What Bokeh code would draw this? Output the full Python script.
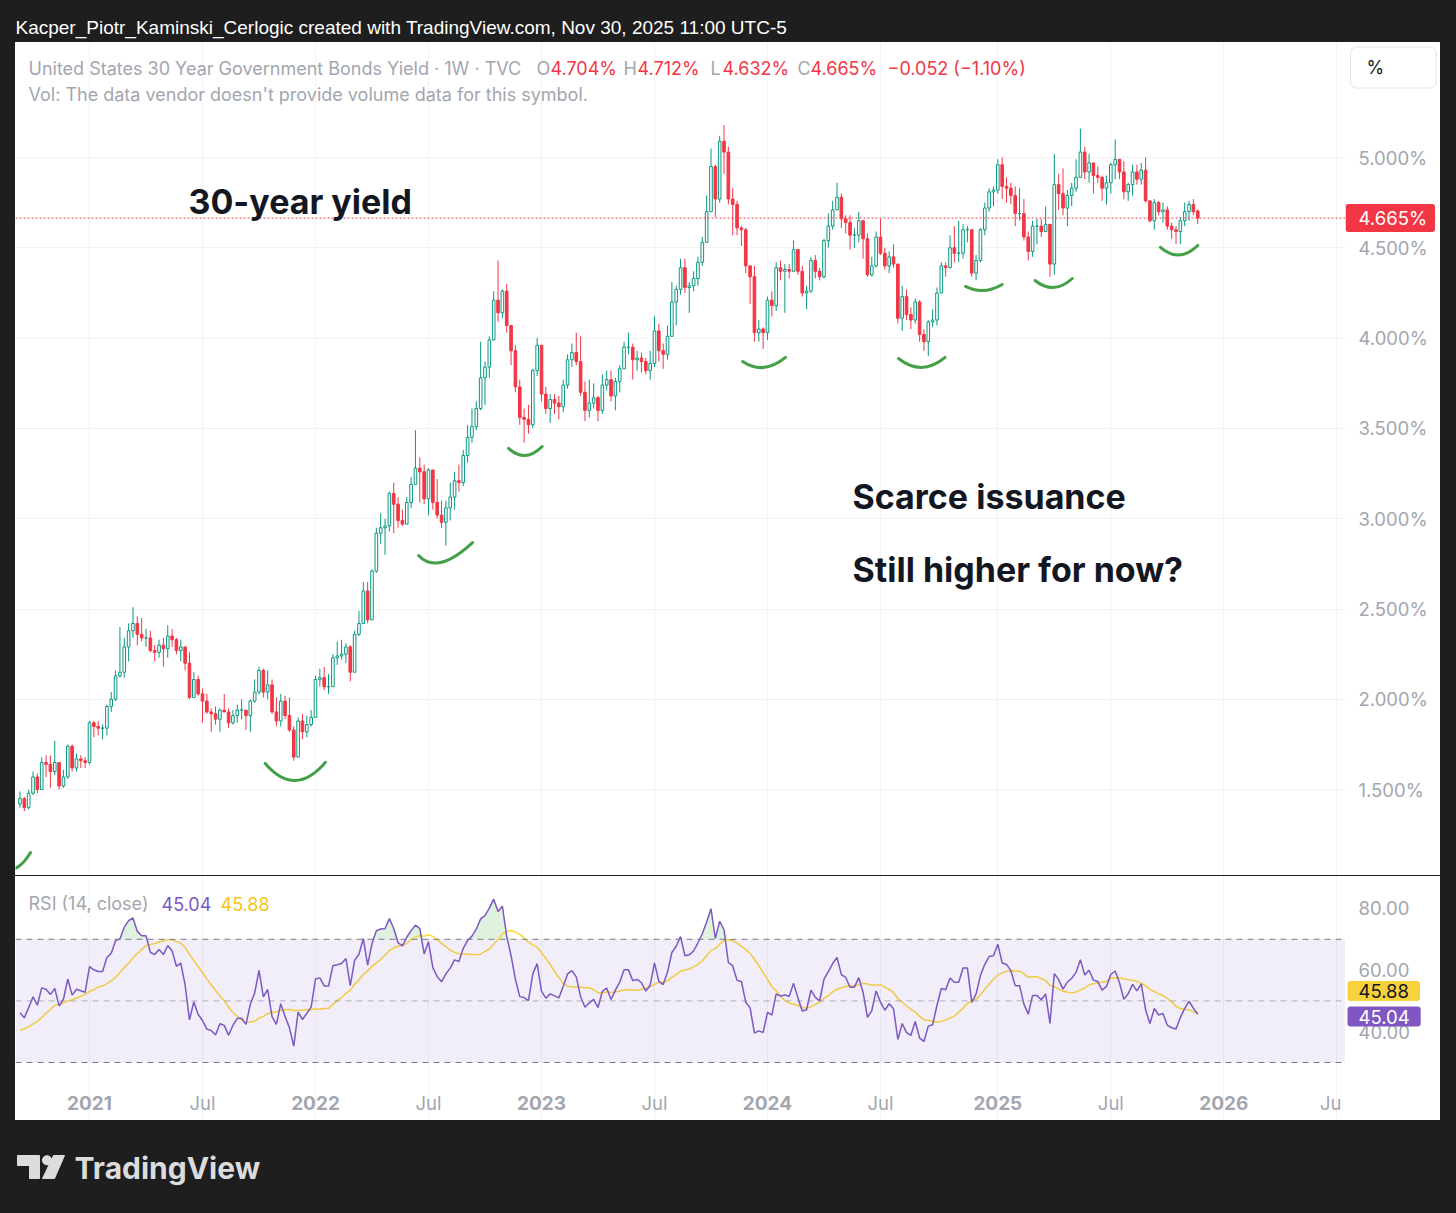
import numpy as np
import pandas as pd
from bokeh.plotting import figure
from bokeh.models import (Range1d, FixedTicker, Span, Label, ColumnDataSource, BoxAnnotation,
                          Spacer, Grid)
from bokeh.layouts import column, row
from bokeh.core.properties import value
from bokeh.embed import file_html
from bokeh.resources import INLINE

# ---------------- data (weekly bars, Monday-stamped) ----------------
FIRST_BAR = "2020-09-14"
# closes before the first visible bar (used only to warm up RSI)
warmup_closes = [2.28, 2.29, 2.13, 2.00, 2.05, 2.04, 1.90, 1.68, 1.22, 1.54, 1.54, 1.27,
                 1.23, 1.35, 1.28, 1.17, 1.29, 1.39, 1.31, 1.37, 1.41, 1.68, 1.45, 1.46,
                 1.38, 1.43, 1.33, 1.33, 1.23, 1.19, 1.25, 1.47, 1.35, 1.52, 1.46, 1.42]

close_2020 = [1.45, 1.40, 1.48, 1.57, 1.50, 1.65, 1.64, 1.60, 1.65, 1.52, 1.57, 1.74, 1.62, 1.67, 1.66, 1.65]
high_2020 = [1.49, 1.46, 1.50, 1.60, 1.59, 1.68, 1.69, 1.69, 1.77, 1.65, 1.61, 1.75, 1.75, 1.70, 1.69, 1.68]
low_2020 = [1.40, 1.38, 1.39, 1.47, 1.48, 1.50, 1.57, 1.51, 1.58, 1.50, 1.51, 1.56, 1.60, 1.60, 1.62, 1.62]

close_2021 = [1.87, 1.85, 1.84, 1.84, 1.96, 2.00, 2.13, 2.15, 2.29, 2.38, 2.42, 2.36, 2.34, 2.34, 2.27, 2.26,
              2.30, 2.28, 2.35, 2.33, 2.27, 2.29, 2.20, 2.01, 2.11, 2.03, 1.99, 1.93, 1.92, 1.89, 1.94, 1.93,
              1.87, 1.91, 1.94, 1.94, 1.91, 1.99, 2.04, 2.16, 2.04, 2.08, 1.93, 1.88, 1.99, 1.91, 1.83, 1.68,
              1.88, 1.82, 1.86, 1.90]
high_2021 = [1.88, 1.88, 1.88, 1.86, 1.97, 2.04, 2.16, 2.40, 2.34, 2.42, 2.51, 2.46, 2.45, 2.39, 2.38, 2.30,
             2.33, 2.34, 2.41, 2.39, 2.34, 2.33, 2.27, 2.26, 2.15, 2.13, 2.06, 2.03, 1.95, 1.96, 1.95, 2.03,
             1.95, 1.94, 1.97, 2.00, 1.94, 2.00, 2.11, 2.18, 2.17, 2.16, 2.11, 2.01, 2.03, 2.02, 2.01, 1.85,
             1.90, 1.92, 1.91, 1.94]
low_2021 = [1.64, 1.79, 1.80, 1.78, 1.80, 1.93, 1.99, 2.12, 2.12, 2.21, 2.34, 2.30, 2.32, 2.29, 2.26, 2.21,
            2.23, 2.18, 2.23, 2.29, 2.25, 2.21, 2.16, 2.00, 2.01, 2.02, 1.87, 1.92, 1.82, 1.86, 1.82, 1.93,
            1.84, 1.86, 1.87, 1.89, 1.83, 1.82, 1.98, 2.03, 2.01, 2.00, 1.92, 1.85, 1.85, 1.89, 1.82, 1.66,
            1.69, 1.78, 1.79, 1.85]

close_2022 = [2.11, 2.12, 2.07, 2.07, 2.23, 2.24, 2.25, 2.29, 2.15, 2.36, 2.42, 2.60, 2.44, 2.71, 2.92, 2.95,
              2.96, 3.14, 3.08, 2.99, 2.97, 3.09, 3.19, 3.28, 3.26, 3.11, 3.27, 3.09, 3.02, 2.98, 3.06, 3.12,
              3.21, 3.20, 3.35, 3.45, 3.51, 3.61, 3.78, 3.84, 3.99, 4.21, 4.14, 4.26, 4.07, 3.93, 3.73, 3.56,
              3.55, 3.52, 3.82, 3.96]
high_2022 = [2.13, 2.17, 2.18, 2.14, 2.25, 2.32, 2.33, 2.31, 2.30, 2.38, 2.49, 2.65, 2.65, 2.72, 2.95, 3.03,
             3.00, 3.15, 3.20, 3.12, 3.05, 3.12, 3.23, 3.49, 3.34, 3.30, 3.28, 3.27, 3.22, 3.10, 3.10, 3.20,
             3.26, 3.30, 3.38, 3.52, 3.61, 3.65, 3.98, 3.87, 4.01, 4.26, 4.43, 4.27, 4.30, 4.06, 3.96, 3.77,
             3.61, 3.63, 3.83, 4.00]
low_2022 = [1.91, 2.07, 2.05, 2.03, 2.07, 2.19, 2.22, 2.20, 2.10, 2.16, 2.35, 2.42, 2.42, 2.44, 2.70, 2.86,
            2.80, 2.93, 2.92, 2.95, 2.96, 2.98, 3.06, 3.20, 3.09, 3.08, 3.02, 3.05, 3.00, 2.95, 2.85, 2.99,
            3.05, 3.15, 3.18, 3.31, 3.42, 3.49, 3.60, 3.63, 3.78, 3.99, 4.09, 4.11, 4.03, 3.85, 3.70, 3.52,
            3.42, 3.47, 3.50, 3.79]

close_2023 = [3.69, 3.61, 3.66, 3.64, 3.62, 3.74, 3.88, 3.92, 3.87, 3.70, 3.60, 3.64, 3.67, 3.60, 3.74, 3.77,
              3.68, 3.76, 3.83, 3.95, 3.95, 3.88, 3.89, 3.87, 3.82, 3.86, 4.04, 3.93, 3.91, 4.01, 4.20, 4.27,
              4.39, 4.28, 4.29, 4.33, 4.42, 4.53, 4.70, 4.95, 4.77, 5.09, 5.03, 4.77, 4.74, 4.61, 4.60, 4.40,
              4.34, 4.03, 4.05, 4.03]
high_2023 = [3.96, 3.73, 3.69, 3.69, 3.68, 3.77, 3.91, 3.97, 4.03, 4.01, 3.76, 3.77, 3.75, 3.68, 3.80, 3.82,
             3.82, 3.78, 3.85, 3.98, 4.03, 3.97, 3.93, 3.92, 3.89, 3.93, 4.12, 4.08, 3.97, 4.07, 4.31, 4.29,
             4.44, 4.44, 4.31, 4.37, 4.45, 4.56, 4.79, 5.05, 4.96, 5.12, 5.18, 5.06, 4.83, 4.76, 4.62, 4.61,
             4.40, 4.40, 4.10, 4.06]
low_2023 = [3.65, 3.58, 3.53, 3.58, 3.55, 3.59, 3.72, 3.84, 3.85, 3.68, 3.54, 3.56, 3.61, 3.54, 3.58, 3.71,
            3.65, 3.60, 3.70, 3.83, 3.91, 3.77, 3.82, 3.81, 3.80, 3.77, 3.84, 3.87, 3.83, 3.88, 4.01, 4.07,
            4.24, 4.25, 4.14, 4.26, 4.29, 4.40, 4.53, 4.70, 4.67, 4.75, 4.91, 4.74, 4.57, 4.57, 4.51, 4.36,
            4.19, 3.98, 3.98, 3.94]

close_2024 = [4.21, 4.18, 4.39, 4.37, 4.38, 4.37, 4.49, 4.37, 4.25, 4.26, 4.43, 4.37, 4.34, 4.54, 4.62, 4.71,
              4.78, 4.66, 4.64, 4.57, 4.57, 4.65, 4.55, 4.35, 4.40, 4.56, 4.47, 4.40, 4.45, 4.41, 4.11, 4.23,
              4.13, 4.10, 4.20, 4.02, 3.98, 4.09, 4.10, 4.25, 4.40, 4.39, 4.50, 4.47, 4.47, 4.60, 4.60, 4.36,
              4.43, 4.60, 4.72, 4.81]
high_2024 = [4.23, 4.26, 4.42, 4.43, 4.41, 4.41, 4.54, 4.48, 4.40, 4.29, 4.45, 4.46, 4.39, 4.55, 4.69, 4.76,
             4.86, 4.80, 4.68, 4.68, 4.61, 4.70, 4.62, 4.58, 4.45, 4.59, 4.66, 4.50, 4.48, 4.52, 4.41, 4.29,
             4.27, 4.17, 4.22, 4.21, 4.05, 4.10, 4.16, 4.28, 4.42, 4.42, 4.57, 4.62, 4.65, 4.63, 4.62, 4.54,
             4.46, 4.61, 4.75, 4.83]
low_2024 = [3.99, 4.12, 4.15, 4.32, 4.14, 4.33, 4.37, 4.35, 4.23, 4.16, 4.25, 4.33, 4.32, 4.33, 4.50, 4.60,
            4.71, 4.61, 4.58, 4.49, 4.50, 4.53, 4.44, 4.34, 4.34, 4.39, 4.46, 4.38, 4.36, 4.39, 4.08, 4.04,
            4.10, 4.05, 4.08, 3.98, 3.93, 3.90, 4.06, 4.07, 4.26, 4.34, 4.39, 4.42, 4.42, 4.44, 4.53, 4.34,
            4.32, 4.42, 4.57, 4.70]

close_2025 = [4.82, 4.96, 4.84, 4.83, 4.79, 4.69, 4.69, 4.56, 4.48, 4.62, 4.62, 4.59, 4.63, 4.41, 4.85, 4.80,
              4.72, 4.79, 4.83, 4.89, 5.03, 4.92, 4.97, 4.90, 4.89, 4.83, 4.86, 4.96, 4.99, 4.92, 4.81, 4.85,
              4.92, 4.88, 4.93, 4.76, 4.65, 4.75, 4.70, 4.71, 4.62, 4.60, 4.59, 4.65, 4.70, 4.74, 4.70, 4.665]
high_2025 = [4.84, 4.99, 5.00, 4.89, 4.86, 4.84, 4.83, 4.77, 4.59, 4.65, 4.66, 4.66, 4.73, 4.63, 5.02, 4.91,
             4.94, 4.82, 4.86, 4.99, 5.16, 5.06, 5.02, 4.97, 4.95, 4.90, 4.90, 4.97, 5.10, 4.99, 4.98, 4.86,
             4.96, 4.96, 4.97, 5.00, 4.76, 4.77, 4.76, 4.75, 4.73, 4.64, 4.62, 4.67, 4.75, 4.76, 4.77, 4.712]
low_2025 = [4.73, 4.80, 4.77, 4.75, 4.74, 4.62, 4.65, 4.54, 4.43, 4.45, 4.52, 4.56, 4.60, 4.34, 4.35, 4.71,
            4.68, 4.62, 4.73, 4.81, 4.89, 4.88, 4.86, 4.80, 4.86, 4.76, 4.74, 4.80, 4.88, 4.88, 4.77, 4.76,
            4.79, 4.85, 4.85, 4.75, 4.64, 4.60, 4.68, 4.64, 4.60, 4.55, 4.52, 4.52, 4.62, 4.65, 4.68, 4.632]
LAST_OPEN = 4.704

# axis ticks / labels
price_ticks = [1.5, 2.0, 2.5, 3.0, 3.5, 4.0, 4.5, 5.0]
price_tick_labels = ["1.500%", "2.000%", "2.500%", "3.000%", "3.500%", "4.000%", "4.500%", "5.000%"]
rsi_ticks = [40, 60, 80]
rsi_tick_labels = ["40.00", "60.00", "80.00"]
year_tick_dates = ["2021-01-04", "2022-01-03", "2023-01-02", "2024-01-01", "2025-01-06", "2026-01-05"]
year_tick_labels = ["2021", "2022", "2023", "2024", "2025", "2026"]
month_tick_dates = ["2021-07-05", "2022-07-04", "2023-07-03", "2024-07-01", "2025-07-07", "2026-07-06"]
month_tick_labels = ["Jul", "Jul", "Jul", "Jul", "Jul", "Ju"]

# hand-drawn "smile" annotations (start, end, control point)
smile_x0 = ["2020-09-01", "2021-10-14", "2022-06-18", "2022-11-10", "2023-11-22", "2024-07-30", "2024-11-15", "2025-03-07", "2025-09-25"]
smile_y0 = [1.055, 1.645, 2.796, 3.389, 3.870, 3.887, 4.286, 4.319, 4.502]
smile_x1 = ["2020-10-01", "2022-01-19", "2022-09-13", "2023-01-03", "2024-01-30", "2024-10-13", "2025-01-13", "2025-05-06", "2025-11-24"]
smile_y1 = [1.152, 1.651, 2.868, 3.400, 3.893, 3.893, 4.297, 4.330, 4.513]
smile_cx = ["2020-09-18", "2021-12-01", "2022-07-18", "2022-12-07", "2023-12-26", "2024-09-06", "2024-12-14", "2025-04-06", "2025-10-25"]
smile_cy = [1.075, 1.453, 2.686, 3.306, 3.793, 3.785, 4.236, 4.236, 4.413]

# ---------------- derived series ----------------
closes = close_2020 + close_2021 + close_2022 + close_2023 + close_2024 + close_2025
highs = high_2020 + high_2021 + high_2022 + high_2023 + high_2024 + high_2025
lows = low_2020 + low_2021 + low_2022 + low_2023 + low_2024 + low_2025
nbar = len(closes)
dates = pd.date_range(FIRST_BAR, periods=nbar, freq="7D")
opens = [warmup_closes[-1]] + closes[:-1]
opens[-1] = LAST_OPEN
c = np.array(closes); o = np.array(opens)
h = np.maximum.reduce([np.array(highs), o, c])
l = np.minimum.reduce([np.array(lows), o, c])
up = c >= o

# RSI(14) with Wilder smoothing, and its 14-period SMA
allc = np.array(warmup_closes + closes)
d = np.diff(allc)
g = np.clip(d, 0, None); ls = np.clip(-d, 0, None)
N = 14
ag = np.full(len(d), np.nan); al = np.full(len(d), np.nan)
ag[N - 1] = g[:N].mean(); al[N - 1] = ls[:N].mean()
for i in range(N, len(d)):
    ag[i] = (ag[i - 1] * (N - 1) + g[i]) / N
    al[i] = (al[i - 1] * (N - 1) + ls[i]) / N
rsi_all = np.concatenate([[np.nan], 100 - 100 / (1 + ag / al)])
ma_all = pd.Series(rsi_all).rolling(N).mean().to_numpy()
nw = len(warmup_closes)
rsi = rsi_all[nw:]
rsi_ma = ma_all[nw:]

def ms(s):
    return pd.Timestamp(s).timestamp() * 1000.0

# ---------------- styling / layout constants ----------------
UI = "Inter"
GREY = "#a3a6af"
RED = "#f23645"
GREEN = "#089981"
PURPLE = "#7e57c2"
YELLOW = "#f7d23c"
DARK = "#1e1e1e"
INK = "#131722"
PANE_W = 1330      # chart panes: page x 15 .. 1345
SCALE_W = 95       # price scales: page x 1345 .. 1440
PRICE_H = 833      # page y 42 .. 875
RSI_H = 244        # page y 876 .. 1120

anchor = pd.Timestamp("2021-01-04")
x_start = (anchor - pd.Timedelta(weeks=17.03)).timestamp() * 1000.0
x_end = (anchor + pd.Timedelta(weeks=289.0)).timestamp() * 1000.0
xr = Range1d(start=x_start, end=x_end)

P_TOP, P_BOT = 5.6368, 1.0244
p_k = (P_TOP - P_BOT) / PRICE_H
def pyv(pix):  # page pixel -> price value
    return P_TOP - (pix - 42) * p_k

R_TOP = 90.39
r_k = 67.86 / 209.0
R_BOT = R_TOP - RSI_H * r_k
def ryv(pix):  # page pixel -> RSI value
    return R_TOP - (pix - 876) * r_k

all_tick_ms = [ms(t) for t in year_tick_dates + month_tick_dates]
py_range = Range1d(P_BOT, P_TOP)
ry_range = Range1d(R_BOT, R_TOP)

def bare(fig):
    for gr in list(fig.grid):
        gr.visible = False
    return fig

def mkfig(w, h, xrange, yrange, bg="white", **kw):
    f = figure(width=w, height=h, x_range=xrange, y_range=yrange, output_backend="svg",
               toolbar_location=None, x_axis_location=None, y_axis_location=None,
               min_border=0, outline_line_color=None, background_fill_color=bg,
               border_fill_color=bg, **kw)
    return bare(f)

def lab(fig, text, x, y, color, size="18px", style="normal", font=UI, units="screen", **kw):
    fig.add_layout(Label(x=x, y=y, x_units=units, y_units="data", text=text,
                         text_color=color, text_font=font, text_font_size=size,
                         text_font_style=style, text_baseline="middle", **kw))

# ---------------- header ----------------
header = mkfig(1456, 42, Range1d(0, 1456), Range1d(42, 0), bg=DARK)
lab(header, "Kacper_Piotr_Kaminski_Cerlogic created with TradingView.com, Nov 30, 2025 11:00 UTC-5",
    15, 27, "white", size="19px", font="Liberation Sans", units="data")

# ---------------- price pane ----------------
price = mkfig(PANE_W, PRICE_H, xr, py_range, x_axis_type="datetime")
price.add_layout(Grid(dimension=0, ticker=FixedTicker(ticks=all_tick_ms), grid_line_color="#f2f3f5"))
price.add_layout(Grid(dimension=1, ticker=FixedTicker(ticks=price_ticks), grid_line_color="#f2f3f5"))

bar_w = 7 * 24 * 3600 * 1000 * 0.6
src_up = ColumnDataSource(dict(date=dates[up], top=c[up], bottom=o[up], high=h[up], low=l[up]))
src_dn = ColumnDataSource(dict(date=dates[~up], top=o[~up], bottom=c[~up], high=h[~up], low=l[~up]))
price.segment(x0="date", y0="low", x1="date", y1="high", source=src_up, line_color=GREEN, line_width=1)
price.segment(x0="date", y0="low", x1="date", y1="high", source=src_dn, line_color=RED, line_width=1)
price.vbar(x="date", width=bar_w, top="top", bottom="bottom", source=src_up,
           fill_color="white", line_color=GREEN, line_width=1)
price.vbar(x="date", width=bar_w, top="top", bottom="bottom", source=src_dn,
           fill_color=RED, line_color=RED, line_width=1)

price.add_layout(Span(location=closes[-1], dimension="width", line_color=RED,
                      line_dash="2 2", line_width=1))

smile_src = ColumnDataSource(dict(x0=[ms(s) for s in smile_x0], y0=smile_y0,
                                  x1=[ms(s) for s in smile_x1], y1=smile_y1,
                                  cx=[ms(s) for s in smile_cx], cy=smile_cy))
price.quadratic(x0="x0", y0="y0", x1="x1", y1="y1", cx="cx", cy="cy", source=smile_src,
                line_color="#43a047", line_width=3, line_cap="round")

# legend (x in screen px of pane = page x - 15)
LY = pyv(68)
lab(price, "United States 30 Year Government Bonds Yield \u00b7 1W \u00b7 TVC", 13, LY, GREY)
lab(price, "O", 521, LY, GREY)
lab(price, "4.704%", 535, LY, RED)
lab(price, "H", 608, LY, GREY)
lab(price, "4.712%", 622, LY, RED)
lab(price, "L", 695, LY, GREY)
lab(price, "4.632%", 707, LY, RED)
lab(price, "C", 782, LY, GREY)
lab(price, "4.665%", 795, LY, RED)
lab(price, "\u22120.052 (\u22121.10%)", 872, LY, RED)
lab(price, "Vol: The data vendor doesn't provide volume data for this symbol.", 13, pyv(94), GREY)

# big annotations
lab(price, "30-year yield", 173, pyv(201), INK, size="34px", style="bold")
lab(price, "Scarce issuance", 837, pyv(496), INK, size="34px", style="bold")
lab(price, "Still higher for now?", 837, pyv(569), INK, size="34px", style="bold")

# ---------------- price scale ----------------
pscale = mkfig(SCALE_W, PRICE_H, Range1d(0, SCALE_W), py_range)
pscale.text(x=[13] * len(price_ticks), y=price_ticks, text=price_tick_labels,
            text_font=value(UI), text_font_size="18.5px", text_color=GREY,
            text_baseline="middle", text_align="left")
lab(pscale, "%", 5, pyv(67), INK, size="18px",
    background_fill_color="white", border_line_color="#e0e3eb", border_radius=6,
    padding=dict(left=16, right=52, top=10, bottom=10))
lab(pscale, "4.665%", 0, closes[-1], "white", size="18.5px",
    background_fill_color=RED, border_radius=3,
    padding=dict(left=13, right=8, top=3, bottom=3))

# ---------------- RSI pane ----------------
rp = mkfig(PANE_W, RSI_H, xr, ry_range, x_axis_type="datetime")
rp.add_layout(Grid(dimension=0, ticker=FixedTicker(ticks=all_tick_ms), grid_line_color="#f2f3f5",
                   bounds=(ryv(1085), R_TOP)))
rp.add_layout(BoxAnnotation(bottom=30, top=70, fill_color=PURPLE, fill_alpha=0.1, line_color=None))
rp.varea(x=dates, y1=np.full(nbar, 70.0), y2=np.maximum(rsi, 70.0), fill_color="#4caf50", fill_alpha=0.18)
for lvl, alpha in ((70, 1.0), (50, 0.55), (30, 1.0)):
    rp.add_layout(Span(location=lvl, dimension="width", line_color="#787b86", line_alpha=alpha,
                       line_dash="6 5", line_width=1))
rp.line(x=dates, y=rsi_ma, line_color="#fdd835", line_width=1.5)
rp.line(x=dates, y=rsi, line_color=PURPLE, line_width=1.5)

# time axis labels
AX_Y = ryv(1102)
month_label_nudge = [0, 0, 0, 0, 0, -6]   # keep the last, partly visible label inside the pane
rp.text(x=[ms(t) for t in year_tick_dates], y=[AX_Y] * len(year_tick_dates), text=year_tick_labels,
        text_font=value(UI), text_font_size="19px", text_font_style="bold", text_color=GREY,
        text_align="center", text_baseline="middle")
msrc = ColumnDataSource(dict(x=[ms(t) for t in month_tick_dates], y=[AX_Y] * len(month_tick_dates),
                             text=month_tick_labels, dx=month_label_nudge))
rp.text(x="x", y="y", text="text", x_offset="dx", source=msrc,
        text_font=value(UI), text_font_size="18.5px", text_color=GREY,
        text_align="center", text_baseline="middle")

RLY = ryv(903)
lab(rp, "RSI (14, close)", 13, RLY, GREY)
lab(rp, "45.04", 146, RLY, PURPLE)
lab(rp, "45.88", 205, RLY, "#f5c518")

# ---------------- RSI scale ----------------
rscale = mkfig(SCALE_W, RSI_H, Range1d(0, SCALE_W), ry_range)
rscale.text(x=[13] * len(rsi_ticks), y=rsi_ticks, text=rsi_tick_labels,
            text_font=value(UI), text_font_size="18.5px", text_color=GREY,
            text_baseline="middle", text_align="left")
lab(rscale, "45.88", 2, ryv(990.5), INK, size="18.5px", background_fill_color=YELLOW,
    border_radius=3, padding=dict(left=11, right=11, top=3, bottom=3))
lab(rscale, "45.04", 2, ryv(1016), "white", size="18.5px", background_fill_color=PURPLE,
    border_radius=3, padding=dict(left=11, right=11, top=3, bottom=3))

# ---------------- footer ----------------
footer = mkfig(1456, 93, Range1d(0, 1456), Range1d(93, 0), bg=DARK)
LOGO = "#dcdcdc"
footer.patch(x=[17, 39, 39, 29, 29, 17], y=[35, 35, 58, 58, 45, 45], color=LOGO)
footer.circle(x=[46.5], y=[39.8], radius=4.6, color=LOGO)
footer.patch(x=[53, 64, 54, 42], y=[35, 35, 58, 58], color=LOGO)
lab(footer, "TradingView", 74, 47, LOGO, size="30px", style="bold", units="data")

WHITE_BG = {"background-color": "white"}
layout = column(header,
                row(Spacer(width=15, height=PRICE_H), row(price, pscale, styles=WHITE_BG)),
                Spacer(width=1456, height=1),
                row(Spacer(width=15, height=RSI_H), row(rp, rscale, styles=WHITE_BG)),
                footer)

html = file_html(layout, INLINE, title="US 30Y yield")
html = html.replace("</head>", "<style>body{background:#1e1e1e;}</style></head>", 1)
open("out.html", "w").write(html)
